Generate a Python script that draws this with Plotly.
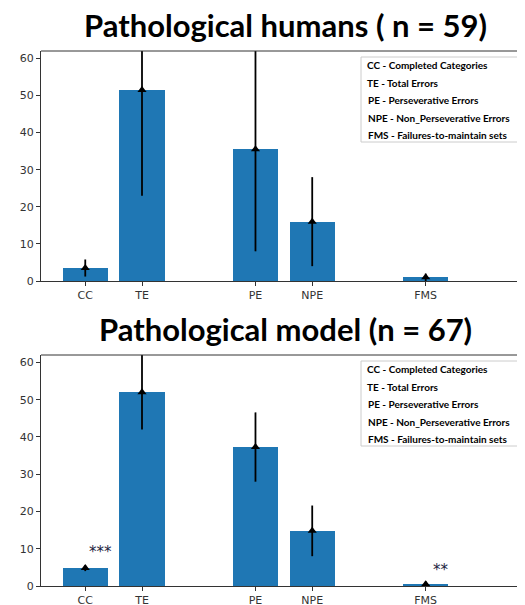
import plotly.graph_objects as go

categories = ["CC", "TE", "PE", "NPE", "FMS"]
positions = [0, 1, 3, 4, 6]

humans_mean = [3.5, 51.5, 35.5, 16.0, 1.0]
humans_err = [2.3, 28.5, 27.5, 12.0, 1.0]

model_mean = [4.8, 52.0, 37.3, 14.8, 0.5]
model_err = [0.8, 10.0, 9.3, 6.8, 0.7]

titles = ["Pathological humans ( n = 59)", "Pathological model (n = 67)"]
legend_lines = ["CC - Completed Categories", "TE - Total Errors",
                "PE - Perseverative Errors", "NPE - Non_Perseverative Errors",
                "FMS - Failures-to-maintain sets"]

stars = [("***", 0.26, 9.2), ("**", 6.27, 4.4)]

# page body has an 8px margin, so the figure is laid out in page px minus 8
OFF = 8
W, H = 525 - OFF, 605 - OFF


def px(v):
    return v - OFF


xl = px(41) / W
panels = [  # (top px, bottom px) in page coordinates
    (51, 281),
    (355, 586),
]

fig = go.Figure()
BLUE = "#1f77b4"
for i, (means, errs) in enumerate([(humans_mean, humans_err), (model_mean, model_err)]):
    xa = "x" if i == 0 else "x2"
    ya = "y" if i == 0 else "y2"
    fig.add_trace(go.Bar(x=positions, y=means, width=0.8, marker=dict(color=BLUE, line=dict(width=0)),
                         xaxis=xa, yaxis=ya, showlegend=False))
    fig.add_trace(go.Scatter(x=positions, y=means, mode="markers",
                             marker=dict(symbol="triangle-up", size=8, color="black"),
                             error_y=dict(type="data", array=errs, visible=True, color="black",
                                          thickness=1.8, width=0),
                             xaxis=xa, yaxis=ya, showlegend=False))

layout = dict(width=W, height=H, margin=dict(l=0, r=0, t=0, b=0, autoexpand=False),
              plot_bgcolor="white", paper_bgcolor="white", bargap=0)
shapes = []
annotations = []
for i, (top, bot) in enumerate(panels):
    y0 = 1 - px(bot) / H
    y1 = 1 - px(top) / H
    sfx = "" if i == 0 else "2"
    layout["xaxis" + sfx] = dict(domain=[xl, 1], range=[-0.78, 7.75], anchor="y" + sfx,
                                 tickvals=positions, ticktext=categories, ticks="outside",
                                 ticklen=4, tickcolor="#333", showline=True, linecolor="#333",
                                 linewidth=1, showgrid=False, zeroline=False, automargin=False,
                                 tickfont=dict(family="DejaVu Sans", size=11, color="#333"))
    layout["yaxis" + sfx] = dict(domain=[y0, y1], range=[0, 62], anchor="x" + sfx,
                                 tickvals=[0, 10, 20, 30, 40, 50, 60], ticks="outside",
                                 ticklen=4, tickcolor="#333", showline=True, linecolor="#333",
                                 linewidth=1, showgrid=False, zeroline=False, automargin=False,
                                 tickfont=dict(family="DejaVu Sans", size=11, color="#333"))
    shapes.append(dict(type="line", xref="paper", yref="paper", x0=xl, x1=1, y0=y1, y1=y1,
                       line=dict(color="#333", width=1)))
    annotations.append(dict(text="<b>" + titles[i] + "</b>", xref="paper", yref="paper",
                            x=px(285) / W, y=1 - px(top - 26) / H, showarrow=False,
                            xanchor="center", yanchor="middle",
                            font=dict(family="Lato", size=31, color="black")))
    # legend box
    shapes.append(dict(type="rect", xref="paper", yref="paper",
                       x0=px(361) / W, x1=px(518) / W,
                       y0=1 - px(top + 91) / H, y1=1 - px(top + 6) / H,
                       line=dict(color="#cccccc", width=1), fillcolor="white"))
    for k, t in enumerate(legend_lines):
        annotations.append(dict(text="<b>" + t + "</b>", xref="paper", yref="paper",
                                x=px(365 + (1 if k >= 2 else 0)) / W,
                                y=1 - px(top + 14 + 17.6 * k) / H,
                                xanchor="left", yanchor="middle", showarrow=False,
                                font=dict(family="Lato", size=10, color="black")))
for txt, xv, yv in stars:
    annotations.append(dict(text=txt, x=xv, y=yv, xref="x2", yref="y2", showarrow=False,
                            xanchor="center", yanchor="middle",
                            font=dict(family="DejaVu Sans", size=15, color="#1a2440")))
layout["shapes"] = shapes
layout["annotations"] = annotations
fig.update_layout(**layout)
fig.write_html("out.html")
